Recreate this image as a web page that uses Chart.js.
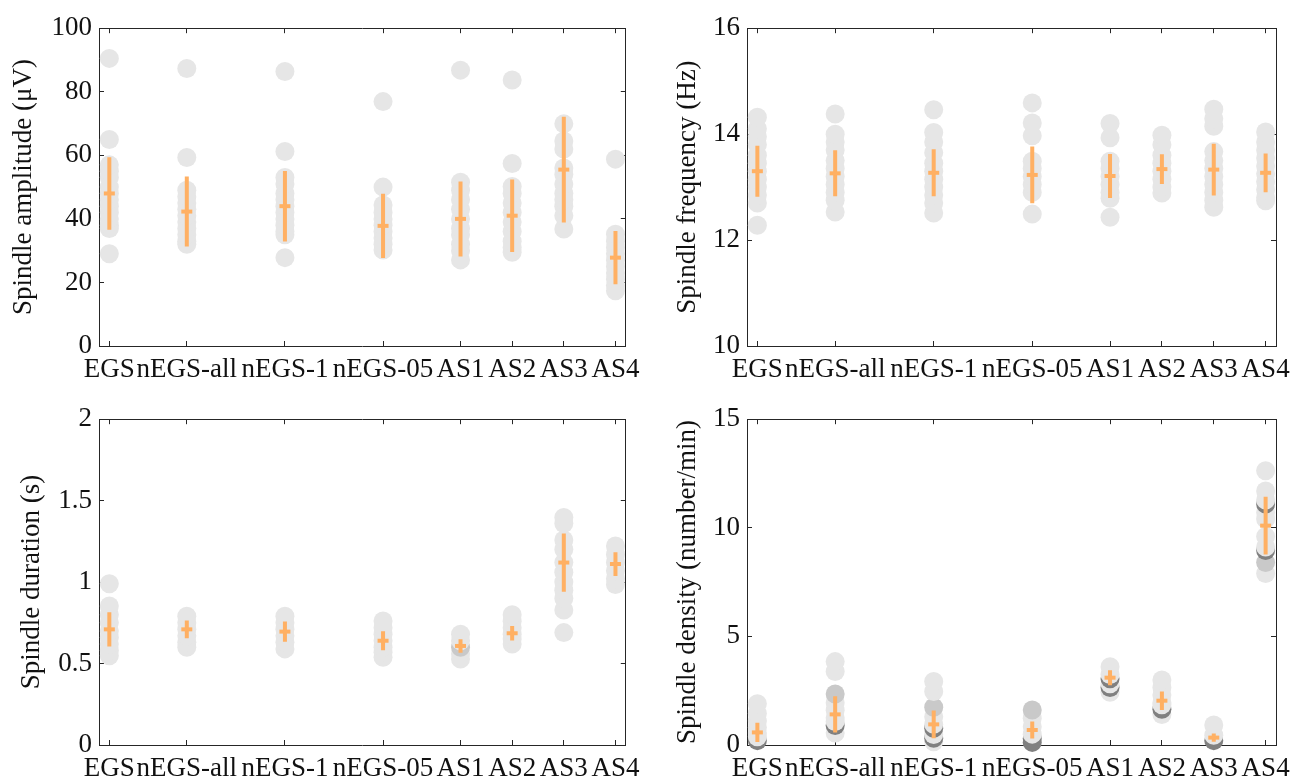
<!DOCTYPE html>
<html>
<head>
<meta charset="utf-8">
<script src="https://cdn.jsdelivr.net/npm/chart.js@4.4.1/dist/chart.umd.min.js"></script>
<style>
  body { margin: 0; background: #fff; }
  #wrap { position: relative; width: 1306px; height: 782px; }
  canvas { position: absolute; }
</style>
</head>
<body>
<div id="wrap">
  <canvas id="ampChart" width="653" height="391" style="left:0;top:0"></canvas>
  <canvas id="freqChart" width="653" height="391" style="left:653px;top:0"></canvas>
  <canvas id="durChart" width="653" height="391" style="left:0;top:391px"></canvas>
  <canvas id="densChart" width="653" height="391" style="left:653px;top:391px"></canvas>
</div>
<script>
const categories = ["EGS", "nEGS-all", "nEGS-1", "nEGS-05", "AS1", "AS2", "AS3", "AS4"];
const catPos = [1, 2.5, 4.4, 6.3, 7.8, 8.8, 9.8, 10.8];

// Spindle amplitude (uV)
const ampPoints = [
    [90.5, 65, 57, 55, 53, 50, 48, 46, 44, 42, 40, 38, 37, 29],
    [87.3, 59.3, 49, 47, 45, 43, 41, 39, 37, 35, 33, 32],
    [86.4, 61.2, 53, 51, 48, 46, 44, 42, 40, 38, 36, 35, 27.8],
    [76.9, 50, 44.4, 42, 40, 38, 36, 34, 32, 30.2],
    [86.8, 51.5, 49, 46, 43, 40, 37, 35, 32, 30, 27.1],
    [83.7, 57.4, 50.2, 48, 45, 42, 39, 36, 33, 31, 29.5],
    [69.9, 64.5, 62, 56, 54, 51, 48, 46, 44, 41, 36.8],
    [58.8, 35.2, 33, 31, 29, 27, 25, 23, 21, 19, 17.4]
];
const ampMean = [48.0, 42.3, 44.0, 37.8, 40.0, 41.0, 55.5, 27.8];
const ampSd = [11.4, 11.0, 11.1, 10.1, 11.8, 11.4, 16.6, 8.4];

// Spindle frequency (Hz)
const freqPoints = [
    [14.32, 14.1, 13.95, 13.8, 13.6, 13.45, 13.3, 13.15, 13.0, 12.85, 12.7, 12.28],
    [14.38, 14.0, 13.85, 13.7, 13.5, 13.35, 13.2, 13.05, 12.9, 12.75, 12.53],
    [14.46, 14.03, 13.85, 13.65, 13.45, 13.3, 13.15, 13.0, 12.85, 12.7, 12.51],
    [14.59, 14.21, 13.97, 13.49, 13.35, 13.2, 13.05, 12.9, 12.49],
    [14.2, 13.93, 13.49, 13.35, 13.2, 13.05, 12.9, 12.79, 12.43],
    [13.98, 13.8, 13.6, 13.45, 13.3, 13.15, 13.0, 12.89],
    [14.47, 14.29, 14.15, 13.67, 13.5, 13.35, 13.2, 13.05, 12.9, 12.75, 12.62],
    [14.04, 13.85, 13.7, 13.55, 13.4, 13.25, 13.1, 12.95, 12.8, 12.74]
];
const freqMean = [13.30, 13.26, 13.27, 13.23, 13.21, 13.34, 13.33, 13.27];
const freqSd = [0.48, 0.435, 0.445, 0.535, 0.415, 0.28, 0.49, 0.365];

// Spindle duration (s)
const durPoints = [
    [0.99, 0.854, 0.8, 0.75, 0.7, 0.66, 0.62, 0.58, 0.548],
    [0.79, 0.75, 0.71, 0.67, 0.63, 0.6],
    [0.79, 0.75, 0.71, 0.67, 0.63, 0.59],
    [0.761, 0.72, 0.68, 0.64, 0.6, 0.57, 0.538],
    [0.68, 0.64, 0.56, 0.528],
    [0.8, 0.76, 0.72, 0.68, 0.65, 0.62],
    [1.396, 1.36, 1.259, 1.2, 1.12, 1.06, 1.0, 0.95, 0.9, 0.829, 0.69],
    [1.222, 1.17, 1.12, 1.07, 1.02, 0.985]
];
const durMid = [[], [], [], [], [0.6], [], [], []];
const durMean = [0.71, 0.71, 0.696, 0.64, 0.608, 0.686, 1.12, 1.111];
const durSd = [0.105, 0.055, 0.062, 0.058, 0.041, 0.045, 0.179, 0.073];

// Spindle density (number/min)
const densPoints = [
    [1.9, 1.45, 1.1, 0.8, 0.55, 0.38],
    [3.84, 3.38, 1.95, 1.6, 1.25, 1.08, 0.55],
    [2.92, 2.46, 1.3, 0.95, 0.48, 0.15],
    [1.23, 0.84, 0.5],
    [3.6, 3.25, 2.82, 2.43],
    [2.99, 2.65, 2.3, 1.95, 1.85, 1.4],
    [0.92, 0.45],
    [12.63, 11.7, 11.28, 10.7, 10.4, 9.6, 9.12, 7.9]
];
const densMid = [[], [2.35], [1.74], [1.61], [], [], [], [8.4]];
const densDark = [[0.2], [0.9], [0.77, 0.31], [0.3, 0.12], [3.05, 2.65], [1.65], [0.2], [11.1, 8.95]];
const densMean = [0.58, 1.41, 0.95, 0.69, 3.1, 2.04, 0.34, 10.1];
const densSd = [0.44, 0.83, 0.635, 0.39, 0.345, 0.425, 0.195, 1.33];

const shades = ["#e6e6e6", "#c9c9c9", "#808080"];
const orange = "#ffb063";
const axisColor = "#262626";
const W = 653, H = 391;

Chart.defaults.font.family = '"Liberation Serif", "Times New Roman", serif';
Chart.defaults.font.size = 27;
Chart.defaults.color = "#111";

function buildPoints(light, mid, dark) {
    const pts = [], colors = [];
    catPos.forEach((x, i) => {
        const items = [];
        light[i].forEach(v => items.push([v, 0]));
        if (mid) mid[i].forEach(v => items.push([v, 1]));
        if (dark) dark[i].forEach(v => items.push([v, 2]));
        // lower circles first, so each upper one covers the one below
        items.sort((a, b) => a[0] - b[0]);
        items.forEach(([v, g]) => {
            pts.push({ x: x, y: v });
            colors.push(shades[g]);
        });
    });
    return { pts, colors };
}

function makePanel(id, p) {
    const ctx = document.getElementById(id).getContext("2d");
    const pts = buildPoints(p.light, p.mid, p.dark);
    const bars = [];
    const means = [];
    catPos.forEach((x, i) => {
        bars.push({ x: x, y: p.mean[i] - p.sd[i] }, { x: x, y: p.mean[i] + p.sd[i] }, { x: x, y: null });
        means.push({ x: x, y: p.mean[i] });
    });

    const xTicks = s => { s.ticks = catPos.map(v => ({ value: v })); };
    const gridOpts = { drawOnChartArea: false, tickLength: -5, tickColor: axisColor, tickWidth: 1 };
    const borderOpts = { color: axisColor, width: 1 };

    return new Chart(ctx, {
        type: "scatter",
        data: {
            datasets: [
                {
                    data: means,
                    pointStyle: "line",
                    pointRadius: 5.5,
                    borderWidth: 4,
                    borderColor: orange,
                    order: 0,
                    clip: false
                },
                {
                    data: bars,
                    showLine: true,
                    spanGaps: false,
                    borderColor: orange,
                    borderWidth: 4,
                    pointRadius: 0,
                    order: 1,
                    clip: false
                },
                {
                    data: pts.pts,
                    backgroundColor: pts.colors,
                    borderWidth: 0,
                    pointRadius: 9.5,
                    order: 2,
                    clip: false
                }
            ]
        },
        options: {
            responsive: false,
            animation: false,
            devicePixelRatio: 1,
            events: [],
            layout: {
                padding: { left: 0, top: p.area.top, right: W - p.area.right, bottom: 0 }
            },
            plugins: {
                legend: { display: false },
                tooltip: { enabled: false }
            },
            scales: {
                x: {
                    type: "linear",
                    position: "bottom",
                    min: 0.8,
                    max: 11,
                    afterBuildTicks: xTicks,
                    afterFit: s => { s.height = H - p.area.bottom; },
                    ticks: {
                        autoSkip: false,
                        maxRotation: 0,
                        minRotation: 0,
                        padding: 13,
                        callback: (v, i) => categories[i]
                    },
                    grid: gridOpts,
                    border: borderOpts
                },
                x2: {
                    type: "linear",
                    position: "top",
                    min: 0.8,
                    max: 11,
                    afterBuildTicks: xTicks,
                    afterFit: s => { s.height = 0; },
                    ticks: { display: false },
                    grid: gridOpts,
                    border: borderOpts
                },
                y: {
                    type: "linear",
                    position: "left",
                    min: p.yMin,
                    max: p.yMax,
                    afterFit: s => { s.width = p.area.left; },
                    ticks: {
                        stepSize: p.yStep,
                        padding: 12,
                        callback: v => String(v)
                    },
                    title: {
                        display: true,
                        text: p.title,
                        font: { size: 27 },
                        padding: { top: p.titlePad, bottom: 0 }
                    },
                    grid: gridOpts,
                    border: borderOpts
                },
                y2: {
                    type: "linear",
                    position: "right",
                    min: p.yMin,
                    max: p.yMax,
                    afterFit: s => { s.width = 0; },
                    ticks: { display: false, stepSize: p.yStep },
                    grid: gridOpts,
                    border: borderOpts
                }
            }
        }
    });
}

makePanel("ampChart", {
    light: ampPoints, mean: ampMean, sd: ampSd,
    yMin: 0, yMax: 100, yStep: 20,
    title: "Spindle amplitude (μV)", titlePad: 8,
    area: { left: 99, top: 20, right: 629, bottom: 346 }
});
makePanel("freqChart", {
    light: freqPoints, mean: freqMean, sd: freqSd,
    yMin: 10, yMax: 16, yStep: 2,
    title: "Spindle frequency (Hz)", titlePad: 19,
    area: { left: 94, top: 20, right: 623, bottom: 346 }
});
makePanel("durChart", {
    light: durPoints, mid: durMid, mean: durMean, sd: durSd,
    yMin: 0, yMax: 2, yStep: 0.5,
    title: "Spindle duration (s)", titlePad: 16,
    area: { left: 99, top: 28, right: 629, bottom: 354 }
});
makePanel("densChart", {
    light: densPoints, mid: densMid, dark: densDark, mean: densMean, sd: densSd,
    yMin: 0, yMax: 15, yStep: 5,
    title: "Spindle density (number/min)", titlePad: 19,
    area: { left: 94, top: 28, right: 623, bottom: 354 }
});
</script>
</body>
</html>
